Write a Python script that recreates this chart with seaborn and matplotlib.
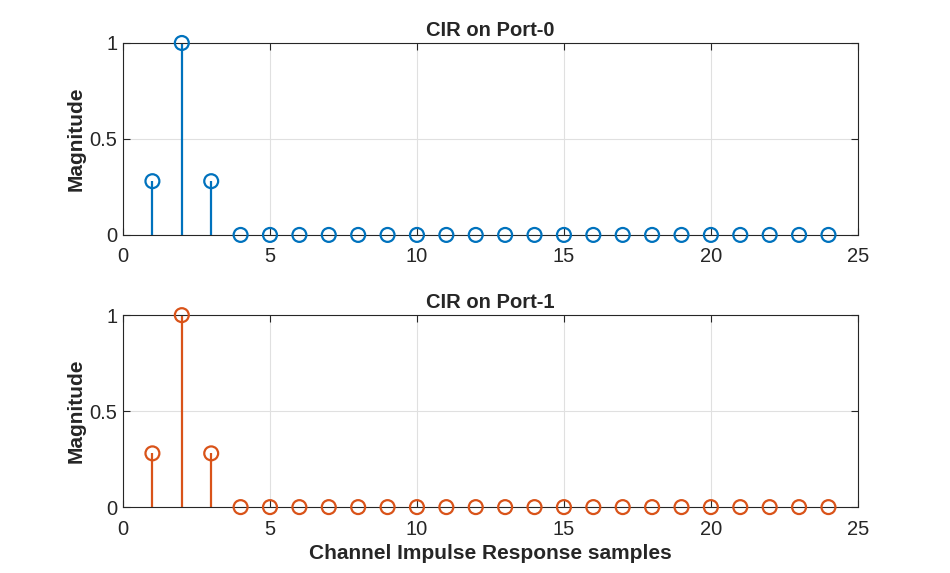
import numpy as np
import matplotlib
matplotlib.use("Agg")
import matplotlib.pyplot as plt
import seaborn as sns

# CIR samples (index 1..24) for each port
samples = np.arange(1, 25)
mag_port0 = [0.28, 1.0, 0.28] + [0.0] * 21
mag_port1 = [0.28, 1.0, 0.28] + [0.0] * 21
titles = ["CIR on Port-0", "CIR on Port-1"]
colors = ["#0072BD", "#D95319"]

sns.set_style("whitegrid")
plt.rcParams['font.family'] = ['Liberation Sans', 'DejaVu Sans']

fig = plt.figure(figsize=(9.5, 5.73), dpi=100)
ax0 = fig.add_axes([0.1295, 0.590, 0.7735, 0.335])
ax1 = fig.add_axes([0.1295, 0.115, 0.7735, 0.335])

for ax, mag, title, col in zip([ax0, ax1], [mag_port0, mag_port1], titles, colors):
    ax.vlines(samples, 0, mag, color=col, linewidth=1.6, zorder=2)
    sns.scatterplot(x=samples, y=mag, ax=ax, marker="o", s=100,
                    facecolor="none", edgecolor=col, linewidth=1.6, zorder=3,
                    clip_on=False)
    ax.set_xlim(0, 25)
    ax.set_ylim(0, 1)
    ax.set_xticks([0, 5, 10, 15, 20, 25])
    ax.set_yticks([0, 0.5, 1])
    ax.set_yticklabels(["0", "0.5", "1"])
    ax.set_title(title, fontsize=14.5, fontweight="bold", pad=5)
    ax.set_ylabel("Magnitude", fontsize=15, fontweight="bold", labelpad=3)
    ax.grid(True, color="#e0e0e0", linewidth=0.8)
    for sp in ax.spines.values():
        sp.set_color("#262626")
        sp.set_linewidth(0.8)
    ax.tick_params(direction="in", length=5, width=0.8, colors="#262626",
                   labelsize=14.5, top=True, right=True, left=True, bottom=True)
    ax.tick_params(axis="x", pad=9)
    ax.tick_params(axis="y", pad=4)

ax1.set_xlabel("Channel Impulse Response samples", fontsize=15, fontweight="bold",
               labelpad=4)

fig.savefig("out.png", dpi=100)
